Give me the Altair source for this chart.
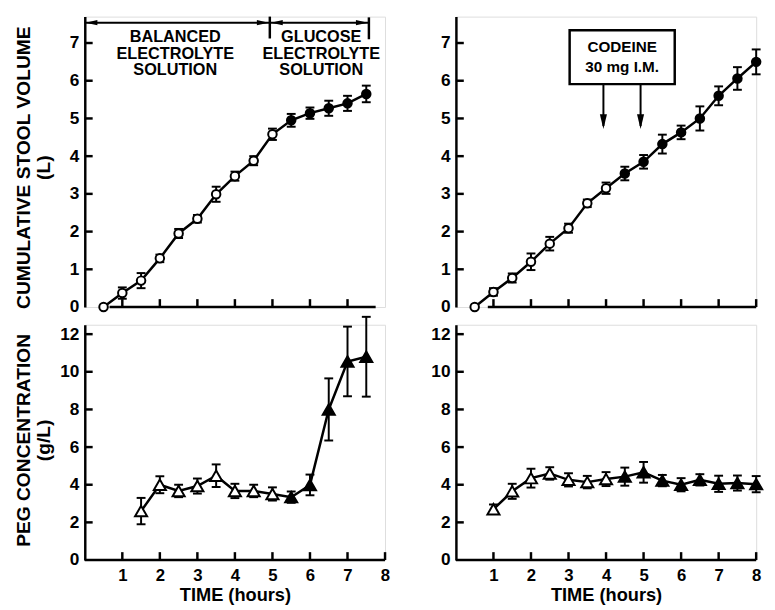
import altair as alt
import pandas as pd

# ---------------- data ----------------
# Top-left: cumulative stool volume (L), balanced -> glucose electrolyte
tl_hours = [0.5, 1, 1.5, 2, 2.5, 3, 3.5, 4, 4.5, 5, 5.5, 6, 6.5, 7, 7.5]
tl_vol = [0, 0.37, 0.70, 1.29, 1.95, 2.34, 2.99, 3.47, 3.88, 4.58, 4.95, 5.14, 5.27, 5.40, 5.65]
tl_err = [0, 0.15, 0.20, 0.10, 0.12, 0.10, 0.20, 0.12, 0.12, 0.15, 0.17, 0.15, 0.20, 0.20, 0.22]
tl_kind = ["open"] * 10 + ["filled"] * 5

# Top-right: cumulative stool volume (L), codeine
tr_hours = [0.5, 1, 1.5, 2, 2.5, 3, 3.5, 4, 4.5, 5, 5.5, 6, 6.5, 7, 7.5, 8]
tr_vol = [0, 0.40, 0.77, 1.20, 1.68, 2.09, 2.75, 3.15, 3.54, 3.85, 4.32, 4.63, 5.00, 5.60, 6.06, 6.50]
tr_err = [0, 0.10, 0.12, 0.22, 0.18, 0.12, 0.10, 0.15, 0.18, 0.18, 0.25, 0.18, 0.32, 0.25, 0.30, 0.33]
tr_kind = ["open"] * 8 + ["filled"] * 8

# Bottom-left: PEG concentration (g/L)
bl_hours = [1.5, 2, 2.5, 3, 3.5, 4, 4.5, 5, 5.5, 6, 6.5, 7, 7.5]
bl_peg = [2.60, 4.00, 3.67, 3.93, 4.48, 3.67, 3.67, 3.51, 3.34, 3.99, 8.00, 10.55, 10.80]
bl_err = [0.70, 0.45, 0.33, 0.40, 0.60, 0.38, 0.33, 0.35, 0.30, 0.55, 1.65, 1.85, 2.12]
bl_kind = ["open"] * 8 + ["filled"] * 5

# Bottom-right: PEG concentration (g/L)
br_hours = [1, 1.5, 2, 2.5, 3, 3.5, 4, 4.5, 5, 5.5, 6, 6.5, 7, 7.5, 8]
br_peg = [2.70, 3.65, 4.35, 4.60, 4.26, 4.14, 4.30, 4.43, 4.66, 4.22, 4.00, 4.26, 4.05, 4.09, 4.03]
br_err = [0.25, 0.40, 0.50, 0.33, 0.35, 0.33, 0.37, 0.48, 0.55, 0.30, 0.35, 0.30, 0.43, 0.40, 0.43]
br_kind = ["open"] * 7 + ["filled"] * 8

# tick labels
x_tick_labels = [1, 2, 3, 4, 5, 6, 7, 8]
vol_ticks = [0, 1, 2, 3, 4, 5, 6, 7]
peg_ticks = [0, 2, 4, 6, 8, 10, 12]

# annotation texts
bal_text = ["BALANCED", "ELECTROLYTE", "SOLUTION"]
glu_text = ["GLUCOSE", "ELECTROLYTE", "SOLUTION"]
cod_text = ["CODEINE", "30 mg  I.M."]
cod_hours = [3.93, 4.92]   # codeine doses

FONT = "Liberation Sans"
W = 305
H_TOP = 295
H_BOT = 239
VOL_DOM = [0, 7.7]
PEG_DOM = [0, 12.5]

LEFT_ARROW = "M 0 0 L 1 -0.22 L 1 0.22 Z"
RIGHT_ARROW = "M 0 0 L -1 -0.22 L -1 0.22 Z"
DOWN_ARROW = "M 0 0 L -0.24 -1 L 0.24 -1 Z"


def panel(hours, vals, errs, kinds, shape, msize, ydom, H, yvals, title, title_y,
          xlabels, axis_from, axis_to, xticks, extra):
    xs = alt.Scale(domain=[0, 8], nice=False, zero=False)
    ys = alt.Scale(domain=ydom, nice=False, zero=False)
    if xlabels:
        xaxis = alt.Axis(values=x_tick_labels, ticks=False, domain=False, grid=False,
                         labelFont=FONT, labelFontSize=17, labelFontWeight="bold",
                         labelColor="black", labelPadding=8, labelFlush=False,
                         title="TIME (hours)", titleFont=FONT, titleFontSize=18.5,
                         titleFontWeight="bold", titleColor="black", titlePadding=2)
    else:
        xaxis = None
    yaxis_kw = dict(values=yvals, ticks=False, grid=False, domainColor="black",
                    domainWidth=2.5, labelFont=FONT, labelFontSize=17.5,
                    labelFontWeight="bold", labelColor="black", labelPadding=6,
                    labelFlush=False)
    if title:
        yaxis = alt.Axis(title=title, titleFont=FONT, titleFontSize=19.5,
                         titleFontWeight="bold", titleColor="black",
                         titleLineHeight=20, titleX=-52, titleY=title_y,
                         titleBaseline="bottom", **yaxis_kw)
    else:
        yaxis = alt.Axis(title=None, **yaxis_kw)

    def X(f="x"):
        return alt.X(f"{f}:Q", scale=xs, axis=xaxis)

    def Y(f="y"):
        return alt.Y(f"{f}:Q", scale=ys, axis=yaxis)

    df = pd.DataFrame({"x": hours, "y": vals, "e": errs, "kind": kinds})
    df["lo"] = df["y"] - df["e"]
    df["hi"] = df["y"] + df["e"]
    dfe = df[df["e"] > 0]

    layers = []
    # x axis line
    layers.append(alt.Chart(pd.DataFrame({"x": [axis_from], "x2": [axis_to]})).mark_rule(
        color="black", strokeWidth=2.5).encode(x=X(), x2="x2:Q", y=alt.value(H)))
    # inward x ticks
    layers.append(alt.Chart(pd.DataFrame({"x": xticks})).mark_rule(
        color="black", strokeWidth=2.5).encode(x=X(), y=alt.value(H), y2=alt.value(H - 8)))
    # inward y ticks
    layers.append(alt.Chart(pd.DataFrame({"y": [v for v in yvals if v > 0]})).mark_rule(
        color="black", strokeWidth=2.5).encode(y=Y(), x=alt.value(0), x2=alt.value(8)))
    # error bars
    layers.append(alt.Chart(dfe).mark_rule(color="black", strokeWidth=2).encode(
        x=X(), y=Y("lo"), y2="hi:Q"))
    layers.append(alt.Chart(dfe).mark_tick(color="black", orient="horizontal", size=9,
                                           thickness=2, opacity=1).encode(x=X(), y=Y("lo")))
    layers.append(alt.Chart(dfe).mark_tick(color="black", orient="horizontal", size=9,
                                           thickness=2, opacity=1).encode(x=X(), y=Y("hi")))
    # connecting line
    layers.append(alt.Chart(df).mark_line(color="black", strokeWidth=2.5).encode(
        x=X(), y=Y()))
    # markers
    layers.append(alt.Chart(df).mark_point(shape=shape, size=msize, filled=True,
                                           stroke="black", strokeWidth=2, opacity=1).encode(
        x=X(), y=Y(),
        fill=alt.Fill("kind:N", scale=alt.Scale(domain=["open", "filled"],
                                                range=["white", "black"]), legend=None)))
    for mk in extra:
        layers.append(mk(X, Y))
    return alt.layer(*layers).properties(width=W, height=H)


# ---- annotations top-left
def ann_topleft(X, Y):
    seg = pd.DataFrame({"x": [0.0, 4.93], "x2": [4.93, 7.57], "y": [7.54, 7.54]})
    bars = pd.DataFrame({"x": [4.93, 7.57], "y": [7.12, 7.10], "y2": [7.70, 7.68]})
    la = pd.DataFrame({"x": [0.02, 4.96], "y": [7.54, 7.54]})
    ra = pd.DataFrame({"x": [4.90, 7.54], "y": [7.54, 7.54]})
    txt = pd.DataFrame({"x": [2.41] * 3 + [6.30] * 3,
                        "y": [7.15, 6.71, 6.27] * 2,
                        "t": bal_text + glu_text})
    return alt.layer(
        alt.Chart(seg).mark_rule(color="black", strokeWidth=2).encode(x=X(), x2="x2:Q", y=Y()),
        alt.Chart(bars).mark_rule(color="black", strokeWidth=2.5).encode(x=X(), y=Y(), y2="y2:Q"),
        alt.Chart(la).mark_point(shape=LEFT_ARROW, size=576, filled=True, color="black",
                                 opacity=1).encode(x=X(), y=Y()),
        alt.Chart(ra).mark_point(shape=RIGHT_ARROW, size=576, filled=True, color="black",
                                 opacity=1).encode(x=X(), y=Y()),
        alt.Chart(txt).mark_text(font=FONT, fontSize=16.5, fontWeight="bold", color="black",
                                 align="center", baseline="middle").encode(
            x=X(), y=Y(), text="t:N"),
    )


# ---- annotations top-right
def ann_topright(X, Y):
    box = pd.DataFrame({"x": [3.03], "x2": [5.83], "y": [5.91], "y2": [7.34]})
    shafts = pd.DataFrame({"x": cod_hours, "y": [4.80, 4.80], "y2": [5.91, 5.91]})
    heads = pd.DataFrame({"x": cod_hours, "y": [4.72, 4.72]})
    txt = pd.DataFrame({"x": [4.43, 4.43], "y": [6.88, 6.36], "t": cod_text})
    return alt.layer(
        alt.Chart(box).mark_rect(fill="white", stroke="black", strokeWidth=2.5).encode(
            x=X(), x2="x2:Q", y=Y(), y2="y2:Q"),
        alt.Chart(shafts).mark_rule(color="black", strokeWidth=2).encode(x=X(), y=Y(), y2="y2:Q"),
        alt.Chart(heads).mark_point(shape=DOWN_ARROW, size=900, filled=True, color="black",
                                    opacity=1).encode(x=X(), y=Y()),
        alt.Chart(txt).mark_text(font=FONT, fontSize=15.5, fontWeight="bold", color="black",
                                 align="center", baseline="middle").encode(
            x=X(), y=Y(), text="t:N"),
    )


tl = panel(tl_hours, tl_vol, tl_err, tl_kind, "circle", 75, VOL_DOM, H_TOP, vol_ticks,
           ["CUMULATIVE STOOL VOLUME", "(L)"], 153, False, 0.66, 7.75,
           [1, 2, 3, 4, 5, 6, 7], [ann_topleft])
tr = panel(tr_hours, tr_vol, tr_err, tr_kind, "circle", 75, VOL_DOM, H_TOP, vol_ticks,
           None, 0, False, 0.85, 8.0, [1, 2, 3, 4, 5, 6, 7, 8], [ann_topright])
bl = panel(bl_hours, bl_peg, bl_err, bl_kind, "triangle-up", 150, PEG_DOM, H_BOT, peg_ticks,
           ["PEG CONCENTRATION", "(g/L)"], 117, True, 0.0, 8.0,
           [1, 2, 3, 4, 5, 6, 7, 8], [])
br = panel(br_hours, br_peg, br_err, br_kind, "triangle-up", 150, PEG_DOM, H_BOT, peg_ticks,
           None, 0, True, 0.0, 8.0, [1, 2, 3, 4, 5, 6, 7, 8], [])

chart = alt.concat(tl, tr, bl, br, columns=2, bounds="flush",
                   spacing=alt.RowColnumber(row=18, column=72)).properties(
    padding={"left": 5, "top": 2, "right": 0, "bottom": 0}
).configure_view(stroke=None).configure(background="white")

chart.save("out.html", embed_options={"renderer": "svg", "actions": False})
